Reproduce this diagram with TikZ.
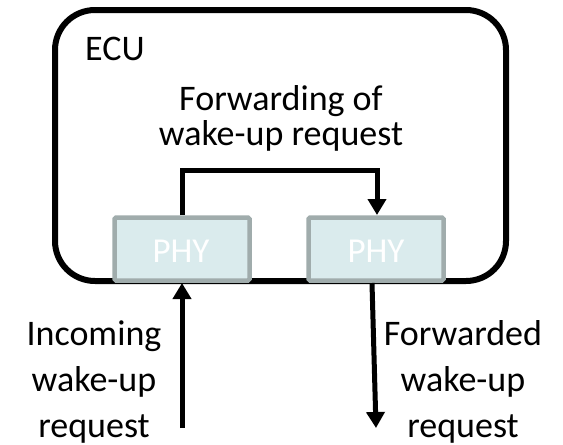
\documentclass[tikz,border=0pt]{standalone}
\usepackage{fontspec}
\setmainfont{Carlito}
\usetikzlibrary{arrows.meta}
\definecolor{phyfill}{RGB}{218,235,237}
\definecolor{phyedge}{RGB}{160,172,172}
\tikzset{
  ecubox/.style={draw=black, line width=6pt, rounded corners=40pt},
  phybox/.style={draw=phyedge, fill=phyfill, line width=4.5pt, rounded corners=1.5pt},
  phytext/.style={text=white, font=\fontsize{35}{42}\selectfont, anchor=base, inner sep=0pt},
  lbl/.style={font=\fontsize{36}{46}\selectfont, align=center, anchor=base, inner sep=0pt},
  arr/.style={line width=5pt, -{Triangle[width=18pt,length=16pt]}, line join=miter}
}
\begin{document}
\begin{tikzpicture}[x=1pt,y=-1pt]
\useasboundingbox (0,0) rectangle (563,445);
\draw[ecubox] (55,10) rectangle (506,281);
\node[lbl, anchor=base west] (ecu) at (85,60) {ECU};
\node[lbl, font=\fontsize{36}{35}\selectfont] (fwdlbl) at (281,145) {Forwarding of\\wake-up request};
\draw[phybox] (114.5,217.5) rectangle (249.5,280.5);
\node[phytext] (phyAt) at (181,262) {PHY};
\draw[phybox] (308.5,217.5) rectangle (443.5,280.5);
\node[phytext] (phyBt) at (376,262) {PHY};
\coordinate (aTop) at (182,215);
\coordinate (bTop) at (377,215);
\coordinate (aBot) at (182,283);
\coordinate (bBot) at (372,283);
\coordinate (inStart) at (182,428);
\coordinate (outEnd) at (376,428);
\draw[arr] (aTop) -- (182,170) -- (377,170) -- (bTop);
\draw[arr] (inStart) -- (aBot);
\draw[arr] (bBot) -- (outEnd);
\node[lbl] (inlbl) at (94,437) {Incoming\\wake-up\\request};
\node[lbl] (outlbl) at (463,437) {Forwarded\\wake-up\\request};
\end{tikzpicture}
\end{document}
